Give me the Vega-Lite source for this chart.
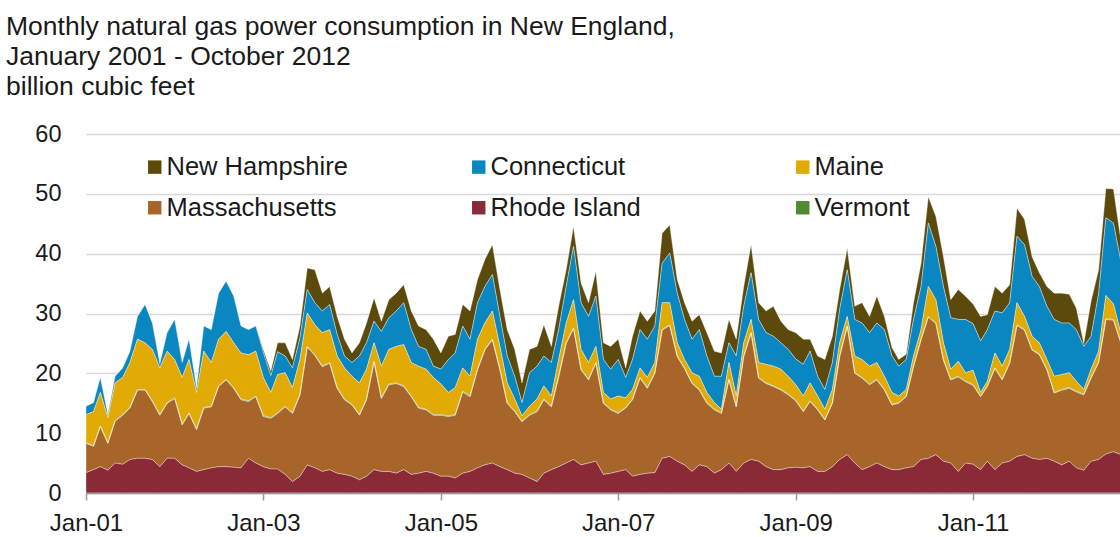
{
"$schema": "https://vega.github.io/schema/vega-lite/v6.json",
"width": 1034, "height": 359,
"autosize": {"type": "none"},
"padding": {"left": 86, "top": 134, "right": 0, "bottom": 44},
"background": "white",
"config": {"view": {"stroke": null}, "font": "Liberation Sans"},
"title": {"text": ["Monthly natural gas power consumption in New England,", "January 2001 - October 2012", "billion cubic feet"], "anchor": "start", "frame": "group", "dx": -80, "fontSize": 26.5, "font": "Liberation Sans", "fontWeight": "normal", "color": "#1a1a1a", "lineHeight": 30, "offset": 22},
"datasets": {"ranks": [
 {"state": "Rhode Island", "rank": 1}, {"state": "Massachusetts", "rank": 2}, {"state": "Vermont", "rank": 3},
 {"state": "Maine", "rank": 4}, {"state": "Connecticut", "rank": 5}, {"state": "New Hampshire", "rank": 6}]},
"data": {"format": {"parse": {"date": "date:'%Y-%m-%d'"}}, "values": [
{"date":"2001-01-01","New Hampshire":0,"Connecticut":1.4,"Maine":4.7,"Massachusetts":4.9,"Rhode Island":3.4,"Vermont":0.1},
{"date":"2001-02-01","New Hampshire":0,"Connecticut":1.5,"Maine":5.7,"Massachusetts":3.9,"Rhode Island":3.9,"Vermont":0.1},
{"date":"2001-03-01","New Hampshire":0,"Connecticut":2.5,"Maine":5.6,"Massachusetts":6.7,"Rhode Island":4.4,"Vermont":0.1},
{"date":"2001-04-01","New Hampshire":0,"Connecticut":0.5,"Maine":4.2,"Massachusetts":4.5,"Rhode Island":3.8,"Vermont":0.1},
{"date":"2001-05-01","New Hampshire":0,"Connecticut":1.1,"Maine":6.3,"Massachusetts":7.0,"Rhode Island":5.0,"Vermont":0.1},
{"date":"2001-06-01","New Hampshire":0,"Connecticut":1.6,"Maine":6.2,"Massachusetts":8.2,"Rhode Island":4.8,"Vermont":0.1},
{"date":"2001-07-01","New Hampshire":0,"Connecticut":1.9,"Maine":7.5,"Massachusetts":8.6,"Rhode Island":5.6,"Vermont":0.1},
{"date":"2001-08-01","New Hampshire":0,"Connecticut":3.8,"Maine":8.4,"Massachusetts":11.4,"Rhode Island":5.8,"Vermont":0.1},
{"date":"2001-09-01","New Hampshire":0,"Connecticut":6.4,"Maine":7.8,"Massachusetts":11.4,"Rhode Island":5.8,"Vermont":0.1},
{"date":"2001-10-01","New Hampshire":0,"Connecticut":4.4,"Maine":8.6,"Massachusetts":9.7,"Rhode Island":5.6,"Vermont":0.1},
{"date":"2001-11-01","New Hampshire":0,"Connecticut":0.7,"Maine":7.8,"Massachusetts":8.6,"Rhode Island":4.4,"Vermont":0.1},
{"date":"2001-12-01","New Hampshire":0,"Connecticut":3.1,"Maine":8.6,"Massachusetts":9.2,"Rhode Island":5.8,"Vermont":0.1},
{"date":"2002-01-01","New Hampshire":0,"Connecticut":6.7,"Maine":6.4,"Massachusetts":10.0,"Rhode Island":5.8,"Vermont":0.1},
{"date":"2002-02-01","New Hampshire":0,"Connecticut":2.5,"Maine":7.8,"Massachusetts":6.7,"Rhode Island":4.7,"Vermont":0.1},
{"date":"2002-03-01","New Hampshire":0,"Connecticut":3.4,"Maine":8.9,"Massachusetts":9.1,"Rhode Island":4.2,"Vermont":0.1},
{"date":"2002-04-01","New Hampshire":0,"Connecticut":0.8,"Maine":6.1,"Massachusetts":7.0,"Rhode Island":3.6,"Vermont":0.1},
{"date":"2002-05-01","New Hampshire":0,"Connecticut":4.2,"Maine":9.4,"Massachusetts":10.3,"Rhode Island":3.9,"Vermont":0.1},
{"date":"2002-06-01","New Hampshire":0,"Connecticut":5.5,"Maine":7.3,"Massachusetts":10.2,"Rhode Island":4.2,"Vermont":0.1},
{"date":"2002-07-01","New Hampshire":0,"Connecticut":7.7,"Maine":7.8,"Massachusetts":13.4,"Rhode Island":4.4,"Vermont":0.1},
{"date":"2002-08-01","New Hampshire":0,"Connecticut":8.4,"Maine":8.0,"Massachusetts":14.5,"Rhode Island":4.4,"Vermont":0.1},
{"date":"2002-09-01","New Hampshire":0,"Connecticut":7.8,"Maine":7.5,"Massachusetts":13.2,"Rhode Island":4.3,"Vermont":0.1},
{"date":"2002-10-01","New Hampshire":0,"Connecticut":4.5,"Maine":7.7,"Massachusetts":11.4,"Rhode Island":4.2,"Vermont":0.1},
{"date":"2002-11-01","New Hampshire":0,"Connecticut":4.2,"Maine":7.7,"Massachusetts":9.5,"Rhode Island":5.8,"Vermont":0.1},
{"date":"2002-12-01","New Hampshire":0,"Connecticut":4.2,"Maine":7.5,"Massachusetts":11.1,"Rhode Island":5.0,"Vermont":0.1},
{"date":"2003-01-01","New Hampshire":0.5,"Connecticut":4.2,"Maine":6.4,"Massachusetts":8.4,"Rhode Island":4.4,"Vermont":0.1},
{"date":"2003-02-01","New Hampshire":0.8,"Connecticut":2.8,"Maine":4.2,"Massachusetts":8.5,"Rhode Island":4.0,"Vermont":0.1},
{"date":"2003-03-01","New Hampshire":1.5,"Connecticut":3.8,"Maine":6.4,"Massachusetts":9.3,"Rhode Island":4.0,"Vermont":0.1},
{"date":"2003-04-01","New Hampshire":2.2,"Connecticut":2.8,"Maine":5.6,"Massachusetts":11.3,"Rhode Island":3.1,"Vermont":0.1},
{"date":"2003-05-01","New Hampshire":1.4,"Connecticut":3.3,"Maine":4.2,"Massachusetts":11.4,"Rhode Island":1.9,"Vermont":0.1},
{"date":"2003-06-01","New Hampshire":2.0,"Connecticut":3.6,"Maine":5.8,"Massachusetts":13.6,"Rhode Island":2.8,"Vermont":0.1},
{"date":"2003-07-01","New Hampshire":3.6,"Connecticut":3.9,"Maine":5.6,"Massachusetts":19.7,"Rhode Island":4.7,"Vermont":0.1},
{"date":"2003-08-01","New Hampshire":5.5,"Connecticut":3.7,"Maine":5.0,"Massachusetts":18.8,"Rhode Island":4.2,"Vermont":0.1},
{"date":"2003-09-01","New Hampshire":3.0,"Connecticut":3.6,"Maine":5.6,"Massachusetts":17.5,"Rhode Island":3.6,"Vermont":0.1},
{"date":"2003-10-01","New Hampshire":3.0,"Connecticut":4.2,"Maine":5.5,"Massachusetts":17.8,"Rhode Island":3.9,"Vermont":0.1},
{"date":"2003-11-01","New Hampshire":3.0,"Connecticut":3.6,"Maine":5.3,"Massachusetts":14.2,"Rhode Island":3.3,"Vermont":0.1},
{"date":"2003-12-01","New Hampshire":2.8,"Connecticut":2.0,"Maine":5.2,"Massachusetts":12.5,"Rhode Island":3.1,"Vermont":0.1},
{"date":"2004-01-01","New Hampshire":1.6,"Connecticut":2.3,"Maine":4.7,"Massachusetts":11.9,"Rhode Island":2.8,"Vermont":0.1},
{"date":"2004-02-01","New Hampshire":2.2,"Connecticut":4.5,"Maine":5.3,"Massachusetts":10.8,"Rhode Island":2.2,"Vermont":0.1},
{"date":"2004-03-01","New Hampshire":3.3,"Connecticut":4.4,"Maine":5.0,"Massachusetts":12.8,"Rhode Island":2.8,"Vermont":0.1},
{"date":"2004-04-01","New Hampshire":3.9,"Connecticut":3.6,"Maine":3.1,"Massachusetts":18.0,"Rhode Island":3.9,"Vermont":0.1},
{"date":"2004-05-01","New Hampshire":1.7,"Connecticut":5.8,"Maine":5.3,"Massachusetts":12.2,"Rhode Island":3.6,"Vermont":0.1},
{"date":"2004-06-01","New Hampshire":3.0,"Connecticut":5.3,"Maine":5.8,"Massachusetts":14.5,"Rhode Island":3.6,"Vermont":0.1},
{"date":"2004-07-01","New Hampshire":3.0,"Connecticut":5.9,"Maine":6.1,"Massachusetts":15.0,"Rhode Island":3.3,"Vermont":0.1},
{"date":"2004-08-01","New Hampshire":3.0,"Connecticut":7.0,"Maine":6.9,"Massachusetts":13.9,"Rhode Island":3.9,"Vermont":0.1},
{"date":"2004-09-01","New Hampshire":3.1,"Connecticut":5.5,"Maine":5.6,"Massachusetts":13.0,"Rhode Island":3.1,"Vermont":0.1},
{"date":"2004-10-01","New Hampshire":3.4,"Connecticut":3.3,"Maine":6.9,"Massachusetts":10.9,"Rhode Island":3.3,"Vermont":0.1},
{"date":"2004-11-01","New Hampshire":3.3,"Connecticut":3.3,"Maine":6.7,"Massachusetts":10.3,"Rhode Island":3.6,"Vermont":0.1},
{"date":"2004-12-01","New Hampshire":4.5,"Connecticut":1.9,"Maine":6.2,"Massachusetts":9.7,"Rhode Island":3.3,"Vermont":0.1},
{"date":"2005-01-01","New Hampshire":2.7,"Connecticut":2.5,"Maine":5.1,"Massachusetts":10.2,"Rhode Island":2.8,"Vermont":0.1},
{"date":"2005-02-01","New Hampshire":3.9,"Connecticut":5.5,"Maine":3.9,"Massachusetts":10.0,"Rhode Island":2.8,"Vermont":0.1},
{"date":"2005-03-01","New Hampshire":3.1,"Connecticut":5.8,"Maine":4.5,"Massachusetts":10.5,"Rhode Island":2.5,"Vermont":0.1},
{"date":"2005-04-01","New Hampshire":3.6,"Connecticut":7.0,"Maine":3.9,"Massachusetts":13.6,"Rhode Island":3.3,"Vermont":0.1},
{"date":"2005-05-01","New Hampshire":4.7,"Connecticut":6.2,"Maine":3.3,"Massachusetts":12.5,"Rhode Island":3.6,"Vermont":0.1},
{"date":"2005-06-01","New Hampshire":3.9,"Connecticut":6.1,"Maine":5.0,"Massachusetts":16.4,"Rhode Island":4.2,"Vermont":0.1},
{"date":"2005-07-01","New Hampshire":4.5,"Connecticut":6.1,"Maine":4.4,"Massachusetts":19.2,"Rhode Island":4.7,"Vermont":0.1},
{"date":"2005-08-01","New Hampshire":5.0,"Connecticut":6.1,"Maine":4.7,"Massachusetts":20.6,"Rhode Island":5.0,"Vermont":0.1},
{"date":"2005-09-01","New Hampshire":4.5,"Connecticut":5.0,"Maine":3.8,"Massachusetts":16.2,"Rhode Island":4.4,"Vermont":0.1},
{"date":"2005-10-01","New Hampshire":4.4,"Connecticut":4.5,"Maine":3.3,"Massachusetts":11.1,"Rhode Island":3.9,"Vermont":0.1},
{"date":"2005-11-01","New Hampshire":4.5,"Connecticut":3.8,"Maine":2.0,"Massachusetts":10.3,"Rhode Island":3.3,"Vermont":0.1},
{"date":"2005-12-01","New Hampshire":3.3,"Connecticut":2.2,"Maine":0.9,"Massachusetts":8.8,"Rhode Island":3.1,"Vermont":0.1},
{"date":"2006-01-01","New Hampshire":3.9,"Connecticut":5.6,"Maine":1.4,"Massachusetts":10.5,"Rhode Island":2.5,"Vermont":0.1},
{"date":"2006-02-01","New Hampshire":3.3,"Connecticut":5.5,"Maine":2.0,"Massachusetts":11.7,"Rhode Island":1.9,"Vermont":0.1},
{"date":"2006-03-01","New Hampshire":5.2,"Connecticut":5.0,"Maine":2.2,"Massachusetts":12.3,"Rhode Island":3.3,"Vermont":0.1},
{"date":"2006-04-01","New Hampshire":2.7,"Connecticut":5.6,"Maine":1.7,"Massachusetts":10.5,"Rhode Island":3.9,"Vermont":0.1},
{"date":"2006-05-01","New Hampshire":3.9,"Connecticut":5.0,"Maine":2.8,"Massachusetts":15.0,"Rhode Island":4.4,"Vermont":0.1},
{"date":"2006-06-01","New Hampshire":2.8,"Connecticut":6.1,"Maine":3.3,"Massachusetts":20.0,"Rhode Island":5.0,"Vermont":0.1},
{"date":"2006-07-01","New Hampshire":3.3,"Connecticut":8.9,"Maine":4.7,"Massachusetts":21.9,"Rhode Island":5.6,"Vermont":0.1},
{"date":"2006-08-01","New Hampshire":3.3,"Connecticut":7.8,"Maine":3.3,"Massachusetts":15.9,"Rhode Island":4.7,"Vermont":0.1},
{"date":"2006-09-01","New Hampshire":2.3,"Connecticut":7.7,"Maine":2.8,"Massachusetts":13.9,"Rhode Island":5.0,"Vermont":0.1},
{"date":"2006-10-01","New Hampshire":4.1,"Connecticut":8.4,"Maine":2.7,"Massachusetts":16.4,"Rhode Island":5.3,"Vermont":0.1},
{"date":"2006-11-01","New Hampshire":2.8,"Connecticut":5.5,"Maine":1.7,"Massachusetts":11.9,"Rhode Island":3.1,"Vermont":0.1},
{"date":"2006-12-01","New Hampshire":3.8,"Connecticut":5.0,"Maine":1.7,"Massachusetts":10.6,"Rhode Island":3.3,"Vermont":0.1},
{"date":"2007-01-01","New Hampshire":3.4,"Connecticut":6.1,"Maine":2.8,"Massachusetts":9.7,"Rhode Island":3.6,"Vermont":0.1},
{"date":"2007-02-01","New Hampshire":1.6,"Connecticut":3.4,"Maine":1.6,"Massachusetts":10.3,"Rhode Island":3.9,"Vermont":0.1},
{"date":"2007-03-01","New Hampshire":3.9,"Connecticut":5.0,"Maine":1.6,"Massachusetts":12.8,"Rhode Island":2.8,"Vermont":0.1},
{"date":"2007-04-01","New Hampshire":3.1,"Connecticut":6.4,"Maine":1.6,"Massachusetts":16.1,"Rhode Island":3.1,"Vermont":0.1},
{"date":"2007-05-01","New Hampshire":3.0,"Connecticut":6.4,"Maine":1.7,"Massachusetts":14.2,"Rhode Island":3.3,"Vermont":0.1},
{"date":"2007-06-01","New Hampshire":2.5,"Connecticut":6.1,"Maine":1.7,"Massachusetts":16.6,"Rhode Island":3.4,"Vermont":0.1},
{"date":"2007-07-01","New Hampshire":5.0,"Connecticut":6.6,"Maine":4.5,"Massachusetts":21.4,"Rhode Island":5.8,"Vermont":0.1},
{"date":"2007-08-01","New Hampshire":4.7,"Connecticut":8.3,"Maine":3.7,"Massachusetts":21.9,"Rhode Island":6.1,"Vermont":0.1},
{"date":"2007-09-01","New Hampshire":2.3,"Connecticut":8.3,"Maine":2.2,"Massachusetts":17.5,"Rhode Island":5.3,"Vermont":0.1},
{"date":"2007-10-01","New Hampshire":2.8,"Connecticut":6.7,"Maine":1.4,"Massachusetts":16.1,"Rhode Island":4.7,"Vermont":0.1},
{"date":"2007-11-01","New Hampshire":3.0,"Connecticut":5.6,"Maine":1.7,"Massachusetts":14.7,"Rhode Island":3.6,"Vermont":0.1},
{"date":"2007-12-01","New Hampshire":2.5,"Connecticut":7.8,"Maine":2.2,"Massachusetts":12.5,"Rhode Island":4.7,"Vermont":0.1},
{"date":"2008-01-01","New Hampshire":3.9,"Connecticut":6.1,"Maine":1.7,"Massachusetts":10.6,"Rhode Island":4.4,"Vermont":0.1},
{"date":"2008-02-01","New Hampshire":4.2,"Connecticut":4.4,"Maine":1.1,"Massachusetts":10.6,"Rhode Island":3.3,"Vermont":0.1},
{"date":"2008-03-01","New Hampshire":3.9,"Connecticut":5.5,"Maine":0.6,"Massachusetts":9.4,"Rhode Island":3.9,"Vermont":0.1},
{"date":"2008-04-01","New Hampshire":3.9,"Connecticut":3.3,"Maine":2.8,"Massachusetts":13.9,"Rhode Island":5.0,"Vermont":0.1},
{"date":"2008-05-01","New Hampshire":2.8,"Connecticut":6.7,"Maine":1.7,"Massachusetts":10.8,"Rhode Island":3.6,"Vermont":0.1},
{"date":"2008-06-01","New Hampshire":3.3,"Connecticut":6.1,"Maine":2.2,"Massachusetts":17.8,"Rhode Island":5.0,"Vermont":0.1},
{"date":"2008-07-01","New Hampshire":4.7,"Connecticut":7.8,"Maine":2.2,"Massachusetts":21.1,"Rhode Island":5.6,"Vermont":0.1},
{"date":"2008-08-01","New Hampshire":2.8,"Connecticut":7.2,"Maine":2.5,"Massachusetts":13.9,"Rhode Island":5.3,"Vermont":0.1},
{"date":"2008-09-01","New Hampshire":3.6,"Connecticut":5.3,"Maine":3.1,"Massachusetts":13.9,"Rhode Island":4.4,"Vermont":0.1},
{"date":"2008-10-01","New Hampshire":5.0,"Connecticut":5.0,"Maine":3.3,"Massachusetts":13.9,"Rhode Island":3.9,"Vermont":0.1},
{"date":"2008-11-01","New Hampshire":3.6,"Connecticut":4.4,"Maine":3.4,"Massachusetts":13.3,"Rhode Island":3.9,"Vermont":0.1},
{"date":"2008-12-01","New Hampshire":3.3,"Connecticut":4.5,"Maine":3.0,"Massachusetts":12.2,"Rhode Island":4.2,"Vermont":0.1},
{"date":"2009-01-01","New Hampshire":4.4,"Connecticut":4.3,"Maine":2.6,"Massachusetts":11.1,"Rhode Island":4.3,"Vermont":0.1},
{"date":"2009-02-01","New Hampshire":4.2,"Connecticut":5.3,"Maine":2.5,"Massachusetts":9.4,"Rhode Island":4.2,"Vermont":0.1},
{"date":"2009-03-01","New Hampshire":2.0,"Connecticut":5.3,"Maine":3.0,"Massachusetts":10.9,"Rhode Island":4.4,"Vermont":0.1},
{"date":"2009-04-01","New Hampshire":3.4,"Connecticut":3.3,"Maine":2.2,"Massachusetts":10.3,"Rhode Island":3.6,"Vermont":0.1},
{"date":"2009-05-01","New Hampshire":5.0,"Connecticut":3.3,"Maine":1.7,"Massachusetts":8.6,"Rhode Island":3.6,"Vermont":0.1},
{"date":"2009-06-01","New Hampshire":4.4,"Connecticut":4.5,"Maine":2.2,"Massachusetts":10.6,"Rhode Island":4.4,"Vermont":0.1},
{"date":"2009-07-01","New Hampshire":3.3,"Connecticut":5.6,"Maine":2.2,"Massachusetts":17.2,"Rhode Island":5.6,"Vermont":0.1},
{"date":"2009-08-01","New Hampshire":3.6,"Connecticut":7.8,"Maine":1.6,"Massachusetts":21.4,"Rhode Island":6.4,"Vermont":0.1},
{"date":"2009-09-01","New Hampshire":2.2,"Connecticut":6.1,"Maine":2.8,"Massachusetts":15.0,"Rhode Island":5.0,"Vermont":0.1},
{"date":"2009-10-01","New Hampshire":3.4,"Connecticut":6.1,"Maine":3.0,"Massachusetts":15.3,"Rhode Island":3.9,"Vermont":0.1},
{"date":"2009-11-01","New Hampshire":2.7,"Connecticut":5.6,"Maine":3.0,"Massachusetts":13.7,"Rhode Island":4.4,"Vermont":0.1},
{"date":"2009-12-01","New Hampshire":4.5,"Connecticut":6.6,"Maine":2.8,"Massachusetts":13.9,"Rhode Island":5.0,"Vermont":0.1},
{"date":"2010-01-01","New Hampshire":2.2,"Connecticut":7.8,"Maine":2.2,"Massachusetts":12.8,"Rhode Island":4.4,"Vermont":0.1},
{"date":"2010-02-01","New Hampshire":1.4,"Connecticut":6.1,"Maine":2.0,"Massachusetts":10.8,"Rhode Island":3.9,"Vermont":0.1},
{"date":"2010-03-01","New Hampshire":1.1,"Connecticut":5.0,"Maine":1.1,"Massachusetts":11.1,"Rhode Island":3.9,"Vermont":0.1},
{"date":"2010-04-01","New Hampshire":0.9,"Connecticut":5.0,"Maine":1.1,"Massachusetts":11.9,"Rhode Island":4.2,"Vermont":0.1},
{"date":"2010-05-01","New Hampshire":2.8,"Connecticut":6.1,"Maine":1.7,"Massachusetts":16.7,"Rhode Island":4.4,"Vermont":0.1},
{"date":"2010-06-01","New Hampshire":3.9,"Connecticut":7.2,"Maine":1.6,"Massachusetts":20.0,"Rhode Island":5.6,"Vermont":0.1},
{"date":"2010-07-01","New Hampshire":4.4,"Connecticut":10.6,"Maine":5.0,"Massachusetts":23.6,"Rhode Island":5.8,"Vermont":0.1},
{"date":"2010-08-01","New Hampshire":5.0,"Connecticut":8.9,"Maine":3.9,"Massachusetts":21.9,"Rhode Island":6.4,"Vermont":0.1},
{"date":"2010-09-01","New Hampshire":5.0,"Connecticut":9.4,"Maine":2.8,"Massachusetts":16.9,"Rhode Island":5.3,"Vermont":0.1},
{"date":"2010-10-01","New Hampshire":3.0,"Connecticut":8.6,"Maine":1.7,"Massachusetts":13.9,"Rhode Island":5.0,"Vermont":0.1},
{"date":"2010-11-01","New Hampshire":5.0,"Connecticut":7.0,"Maine":2.5,"Massachusetts":15.8,"Rhode Island":3.6,"Vermont":0.1},
{"date":"2010-12-01","New Hampshire":3.9,"Connecticut":8.9,"Maine":1.4,"Massachusetts":13.6,"Rhode Island":5.0,"Vermont":0.1},
{"date":"2011-01-01","New Hampshire":3.3,"Connecticut":7.8,"Maine":2.4,"Massachusetts":13.2,"Rhode Island":4.8,"Vermont":0.1},
{"date":"2011-02-01","New Hampshire":4.1,"Connecticut":8.6,"Maine":0.6,"Massachusetts":12.2,"Rhode Island":3.9,"Vermont":0.1},
{"date":"2011-03-01","New Hampshire":2.5,"Connecticut":8.6,"Maine":0.8,"Massachusetts":12.5,"Rhode Island":5.3,"Vermont":0.1},
{"date":"2011-04-01","New Hampshire":4.1,"Connecticut":7.0,"Maine":2.5,"Massachusetts":16.9,"Rhode Island":3.9,"Vermont":0.1},
{"date":"2011-05-01","New Hampshire":3.3,"Connecticut":8.9,"Maine":2.2,"Massachusetts":13.9,"Rhode Island":5.0,"Vermont":0.1},
{"date":"2011-06-01","New Hampshire":3.0,"Connecticut":7.8,"Maine":2.2,"Massachusetts":16.4,"Rhode Island":5.3,"Vermont":0.1},
{"date":"2011-07-01","New Hampshire":4.7,"Connecticut":11.1,"Maine":3.7,"Massachusetts":21.9,"Rhode Island":6.1,"Vermont":0.1},
{"date":"2011-08-01","New Hampshire":4.2,"Connecticut":12.0,"Maine":2.2,"Massachusetts":20.8,"Rhode Island":6.4,"Vermont":0.1},
{"date":"2011-09-01","New Hampshire":3.3,"Connecticut":10.0,"Maine":2.2,"Massachusetts":18.1,"Rhode Island":5.8,"Vermont":0.1},
{"date":"2011-10-01","New Hampshire":2.3,"Connecticut":9.4,"Maine":1.9,"Massachusetts":17.5,"Rhode Island":5.6,"Vermont":0.1},
{"date":"2011-11-01","New Hampshire":3.3,"Connecticut":8.9,"Maine":1.6,"Massachusetts":14.8,"Rhode Island":5.8,"Vermont":0.1},
{"date":"2011-12-01","New Hampshire":4.4,"Connecticut":9.5,"Maine":2.7,"Massachusetts":11.4,"Rhode Island":5.3,"Vermont":0.1},
{"date":"2012-01-01","New Hampshire":5.0,"Connecticut":8.6,"Maine":2.5,"Massachusetts":12.5,"Rhode Island":4.7,"Vermont":0.1},
{"date":"2012-02-01","New Hampshire":4.8,"Connecticut":8.3,"Maine":2.5,"Massachusetts":12.2,"Rhode Island":5.3,"Vermont":0.1},
{"date":"2012-03-01","New Hampshire":3.6,"Connecticut":8.6,"Maine":1.7,"Massachusetts":12.7,"Rhode Island":4.2,"Vermont":0.1},
{"date":"2012-04-01","New Hampshire":0.5,"Connecticut":7.2,"Maine":0.8,"Massachusetts":12.6,"Rhode Island":3.8,"Vermont":0.1},
{"date":"2012-05-01","New Hampshire":5.9,"Connecticut":5.5,"Maine":1.4,"Massachusetts":13.9,"Rhode Island":5.3,"Vermont":0.1},
{"date":"2012-06-01","New Hampshire":4.0,"Connecticut":9.6,"Maine":1.8,"Massachusetts":16.2,"Rhode Island":5.6,"Vermont":0.1},
{"date":"2012-07-01","New Hampshire":4.9,"Connecticut":13.0,"Maine":3.9,"Massachusetts":22.5,"Rhode Island":6.5,"Vermont":0.1},
{"date":"2012-08-01","New Hampshire":5.7,"Connecticut":13.5,"Maine":2.6,"Massachusetts":22.0,"Rhode Island":6.9,"Vermont":0.1},
{"date":"2012-09-01","New Hampshire":3.5,"Connecticut":12.0,"Maine":1.5,"Massachusetts":18.6,"Rhode Island":6.4,"Vermont":0.1},
{"date":"2012-10-01","New Hampshire":3.0,"Connecticut":9.0,"Maine":1.5,"Massachusetts":14.0,"Rhode Island":5.0,"Vermont":0.1}
]},
"transform": [
 {"fold": ["New Hampshire", "Connecticut", "Maine", "Massachusetts", "Rhode Island", "Vermont"], "as": ["state", "value"]},
 {"lookup": "state", "from": {"data": {"name": "ranks"}, "key": "state", "fields": ["rank"]}}
],
"mark": {"type": "area", "clip": true, "stroke": "#ffffff", "strokeWidth": 0.7, "strokeOpacity": 0.5, "interpolate": "linear"},
"encoding": {
 "x": {"field": "date", "type": "temporal",
  "scale": {"domain": [{"year": 2001, "month": "jan", "date": 1}, {"year": 2012, "month": "aug", "date": 28}]},
  "axis": {"values": [{"year": 2001, "month": "jan", "date": 1}, {"year": 2003, "month": "jan", "date": 1}, {"year": 2005, "month": "jan", "date": 1}, {"year": 2007, "month": "jan", "date": 1}, {"year": 2009, "month": "jan", "date": 1}, {"year": 2011, "month": "jan", "date": 1}],
   "format": "%b-%y", "labelFontSize": 24, "labelFont": "Liberation Sans", "labelColor": "#1a1a1a", "labelPadding": 11, "tickSize": 7, "tickColor": "#999999", "tickWidth": 1.5, "domainColor": "#999999", "domainWidth": 1.5, "grid": false, "title": null, "labelFlush": false, "labelOverlap": false, "zindex": 1}},
 "y": {"field": "value", "type": "quantitative", "stack": "zero",
  "scale": {"domain": [0, 60], "nice": false},
  "axis": {"values": [0, 10, 20, 30, 40, 50, 60], "labelFontSize": 23.5, "labelFont": "Liberation Sans", "labelColor": "#1a1a1a", "labelPadding": 25, "ticks": false, "domain": false, "gridColor": "#d9d9d9", "gridWidth": 1.5, "title": null}},
 "color": {"field": "state", "type": "nominal",
  "scale": {"domain": ["New Hampshire", "Connecticut", "Maine", "Massachusetts", "Rhode Island", "Vermont"], "range": ["#5c4a0c", "#0a87c1", "#e1aa05", "#a7652a", "#8b2a37", "#4e8a30"]},
  "legend": {"orient": "none", "legendX": 56, "legendY": 20, "columns": 3, "gridAlign": "all", "columnPadding": 118, "rowPadding": 14, "symbolType": "square", "symbolSize": 180, "symbolStrokeWidth": 0, "symbolOpacity": 1, "labelFontSize": 25.5, "labelFont": "Liberation Sans", "labelColor": "#1a1a1a", "labelOffset": -1, "labelLimit": 400, "title": null, "padding": 0, "direction": "horizontal"}},
 "order": {"field": "rank", "type": "quantitative"}
}
}
